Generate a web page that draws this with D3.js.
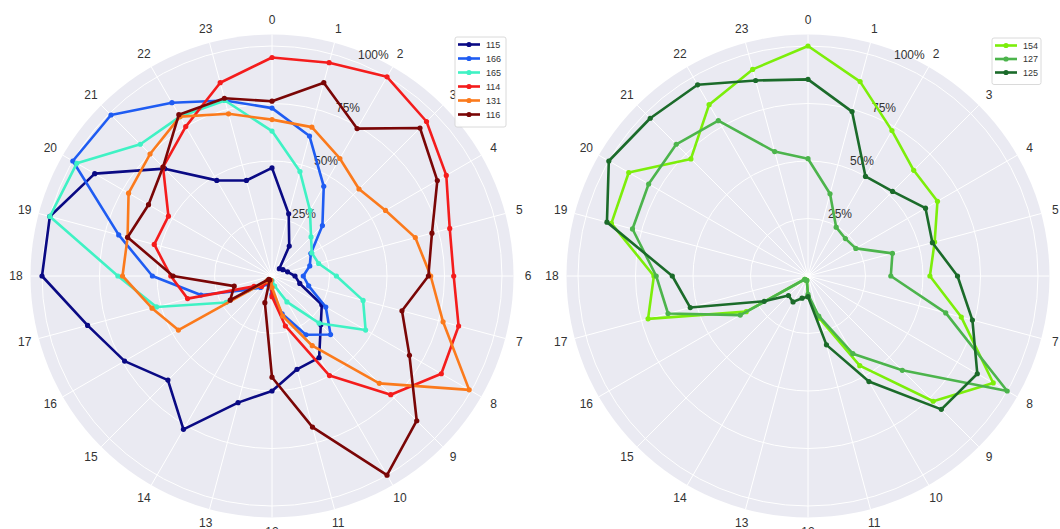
<!DOCTYPE html>
<html>
<head>
<meta charset="utf-8">
<script src="https://cdn.jsdelivr.net/npm/d3@7"></script>
<style>
  body { margin: 0; background: #fff; }
  svg { display: block; font-family: "Liberation Sans", Arial, sans-serif; }
  .grid { stroke: #fff; stroke-width: 1; fill: none; }
  .tick { fill: #333; font-size: 12px; }
  .legtext { fill: #333; font-size: 9px; }
</style>
</head>
<body>
<div id="chart"></div>
<script>
// hour of day, clockwise from the top
var hourLabels = ["0","1","2","3","4","5","6","7","8","9","10","11",
                  "12","13","14","15","16","17","18","19","20","21","22","23"];
var pctTicks = [0.25, 0.5, 0.75, 1.0];
var pctLabels = ["25%", "50%", "75%", "100%"];

// left panel
var s115 = [0.47, 0.28, 0.15, 0.045, 0.055, 0.07, 0.10, 0.125, 0.25, 0.30, 0.41, 0.42,
            0.50, 0.57, 0.77, 0.64, 0.74, 0.83, 1.0, 1.0, 0.89, 0.66, 0.48, 0.43];
var s166 = [0.73, 0.63, 0.45, 0.31, 0.195, 0.17, 0.136, 0.165, 0.27, 0.36, 0.295, 0.17,
            0.08, 0.04, 0.04, 0.07, 0.12, 0.32, 0.52, 0.69, 1.0, 0.99, 0.87, 0.79];
var s165 = [0.63, 0.47, 0.33, 0.24, 0.20, 0.21, 0.28, 0.41, 0.47, 0.29, 0.13, 0.045,
            0.02, 0.02, 0.02, 0.03, 0.23, 0.52, 0.67, 1.0, 0.98, 0.81, 0.80, 0.79];
var s114 = [0.95, 0.96, 1.0, 0.95, 0.875, 0.80, 0.79, 0.84, 0.85, 0.73, 0.50, 0.225,
            0.09, 0.02, 0.03, 0.064, 0.09, 0.38, 0.44, 0.53, 0.52, 0.67, 0.75, 0.87];
var s131 = [0.68, 0.67, 0.59, 0.535, 0.57, 0.645, 0.69, 0.77, 0.99, 0.66, 0.35, 0.18,
            0.05, 0.02, 0.02, 0.03, 0.47, 0.54, 0.65, 0.65, 0.72, 0.75, 0.80, 0.73];
var s116 = [0.76, 0.87, 0.74, 0.91, 0.83, 0.72, 0.68, 0.585, 0.69, 0.89, 1.0, 0.68,
            0.44, 0.12, 0.02, 0.02, 0.21, 0.17, 0.43, 0.65, 0.62, 0.67, 0.81, 0.80];

// right panel
var s154 = [1.0, 0.875, 0.73, 0.65, 0.65, 0.57, 0.53, 0.69, 0.93, 0.77, 0.45, 0.19,
            0.09, 0.02, 0.02, 0.02, 0.31, 0.72, 0.67, 0.885, 0.90, 0.72, 0.86, 0.93];
var s127 = [0.51, 0.37, 0.245, 0.23, 0.24, 0.38, 0.36, 0.62, 1.0, 0.58, 0.39, 0.18,
            0.08, 0.02, 0.02, 0.02, 0.34, 0.63, 0.66, 0.79, 0.80, 0.81, 0.78, 0.56];
var s125 = [0.855, 0.74, 0.50, 0.52, 0.59, 0.56, 0.65, 0.74, 0.85, 0.82, 0.53, 0.31,
            0.09, 0.10, 0.13, 0.12, 0.22, 0.53, 0.59, 0.905, 1.0, 0.97, 0.96, 0.88];

var leftNames = ["115", "166", "165", "114", "131", "116"];
var leftColors = ["#0a0a84", "#1f5cf2", "#3ff2c4", "#f41c1c", "#fb7a1c", "#7a0606"];
var leftSeries = [s115, s166, s165, s114, s131, s116];

var rightNames = ["154", "127", "125"];
var rightColors = ["#7cee0a", "#4cb44c", "#1b6b2a"];
var rightSeries = [s154, s127, s125];

/////////////////////////////////////////////////////////////////////

var W = 1060, H = 529;
var outerR = 241.5;
var rMax = 1.05;

var svg = d3.select("#chart").append("svg")
    .attr("width", W)
    .attr("height", H);

var r = d3.scaleLinear().domain([0, rMax]).range([0, outerR]);
var angle = d3.scaleLinear().domain([0, 24]).range([0, 2 * Math.PI]);

function makePolar(cx, cy, names, colors, series, legend) {
  var g = svg.append("g").attr("transform", "translate(" + cx + "," + cy + ")");

  // disc
  g.append("circle").attr("r", outerR).attr("fill", "#eaeaf2");

  // spokes
  g.selectAll("line.spoke")
    .data(hourLabels)
    .enter().append("line")
    .attr("class", "grid")
    .attr("x1", 0).attr("y1", 0)
    .attr("x2", function(d, i) { return d3.pointRadial(angle(i), outerR)[0]; })
    .attr("y2", function(d, i) { return d3.pointRadial(angle(i), outerR)[1]; });

  // rings
  g.selectAll("circle.ring")
    .data(pctTicks)
    .enter().append("circle")
    .attr("class", "grid")
    .attr("r", function(d) { return r(d); });

  // hour labels
  g.selectAll("text.hour")
    .data(hourLabels)
    .enter().append("text")
    .attr("class", "tick")
    .attr("text-anchor", "middle")
    .attr("dominant-baseline", "central")
    .attr("x", function(d, i) { return d3.pointRadial(angle(i), 256)[0]; })
    .attr("y", function(d, i) { return d3.pointRadial(angle(i), 256)[1]; })
    .text(function(d) { return d; });

  // radial labels at 22.5 deg
  var la = 22.5 * Math.PI / 180;
  g.selectAll("text.pct")
    .data(pctTicks)
    .enter().append("text")
    .attr("class", "tick")
    .attr("x", function(d) { return d3.pointRadial(la, r(d))[0] - 2; })
    .attr("y", function(d) { return d3.pointRadial(la, r(d))[1] - 5; })
    .text(function(d, i) { return pctLabels[i]; });

  var line = d3.lineRadial()
    .angle(function(d, i) { return angle(i); })
    .radius(function(d) { return r(d); })
    .curve(d3.curveLinearClosed);

  series.forEach(function(vals, k) {
    g.append("path")
      .attr("d", line(vals))
      .attr("fill", "none")
      .attr("stroke", colors[k])
      .attr("stroke-width", 2.6)
      .attr("stroke-linejoin", "round");

    g.selectAll(null)
      .data(vals)
      .enter().append("circle")
      .attr("r", 2.6)
      .attr("fill", colors[k])
      .attr("cx", function(d, i) { return d3.pointRadial(angle(i), r(d))[0]; })
      .attr("cy", function(d, i) { return d3.pointRadial(angle(i), r(d))[1]; });
  });

  // legend
  var lg = svg.append("g");
  lg.append("rect")
    .attr("x", legend.x).attr("y", legend.y)
    .attr("width", legend.w).attr("height", legend.step * names.length + 6)
    .attr("rx", 2)
    .attr("fill", "#fff").attr("fill-opacity", 0.85)
    .attr("stroke", "#d0d0d0").attr("stroke-width", 0.8);

  names.forEach(function(name, k) {
    var yy = legend.y + 7.5 + k * legend.step;
    lg.append("line")
      .attr("x1", legend.x + 3).attr("x2", legend.x + 25)
      .attr("y1", yy).attr("y2", yy)
      .attr("stroke", colors[k]).attr("stroke-width", 2.6);
    lg.append("circle")
      .attr("cx", legend.x + 14).attr("cy", yy).attr("r", 2.6)
      .attr("fill", colors[k]);
    lg.append("text")
      .attr("class", "legtext")
      .attr("x", legend.x + 31).attr("y", yy)
      .attr("dominant-baseline", "central")
      .text(name);
  });
}

makePolar(272, 276, leftNames, leftColors, leftSeries, {x: 455, y: 37, w: 51, step: 14});
makePolar(808, 276, rightNames, rightColors, rightSeries, {x: 992, y: 38, w: 49, step: 13.5});
</script>
</body>
</html>
